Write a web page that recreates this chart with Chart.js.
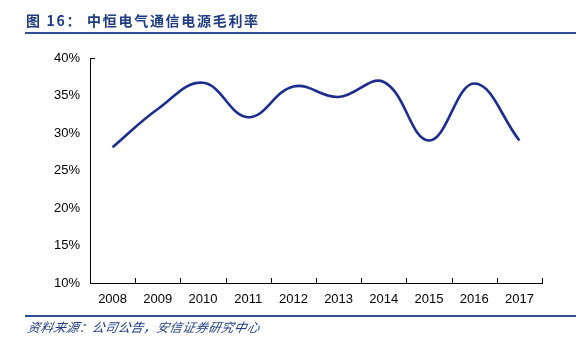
<!DOCTYPE html>
<html><head><meta charset="utf-8">
<script src="https://cdn.jsdelivr.net/npm/chart.js@4"></script>
<style>
html,body{margin:0;padding:0;background:#fff;}
#wrap{position:relative;width:588px;height:356px;overflow:hidden;}
#c{position:absolute;left:0;top:0;}
.title{position:absolute;left:26px;top:10px;font-family:"Noto Sans CJK SC";font-weight:bold;font-size:14px;color:#1F3B82;letter-spacing:1.7px;white-space:nowrap;}
.rule{position:absolute;left:25px;width:551px;height:2px;background:#2E4E9A;}
.src{position:absolute;left:26px;top:317px;font-family:"Noto Sans CJK SC";font-style:italic;font-size:12.5px;letter-spacing:0.4px;color:#1F3B82;white-space:nowrap;transform:skewX(-12deg);transform-origin:left bottom;}
</style></head>
<body><div id="wrap">
<canvas id="c" width="588" height="356"></canvas>
<div class="title">图 16： 中恒电气通信电源毛利率</div>
<div class="rule" style="top:32px"></div>
<div class="rule" style="top:315px;height:1.5px"></div>
<div class="src">资料来源：公司公告，安信证券研究中心</div>
</div>
<script>
const years = ["2008","2009","2010","2011","2012","2013","2014","2015","2016","2017"];
const grossMargin = [28.1, 33.2, 36.7, 32.1, 36.2, 34.8, 36.8, 29.0, 36.6, 29.0];
const yTicks = [10, 15, 20, 25, 30, 35, 40];

const innerTicks = {
  id: 'innerTicks',
  afterDraw(chart) {
    const ctx = chart.ctx, x = chart.scales.x, y = chart.scales.y;
    ctx.save();
    ctx.strokeStyle = '#000'; ctx.lineWidth = 1;
    ctx.beginPath();
    for (let i = 0; i <= years.length; i++) {
      const px = Math.round(x.getPixelForValue(i - 0.5)) + 0.5;
      ctx.moveTo(px, y.bottom); ctx.lineTo(px, y.bottom - 5);
    }
    const top = Math.round(y.getPixelForValue(40)) + 0.5;
    ctx.moveTo(x.left, top); ctx.lineTo(x.left + 5, top);
    ctx.stroke();
    ctx.restore();
  }
};

new Chart(document.getElementById('c'), {
  type: 'line',
  data: { labels: years, datasets: [{
    data: grossMargin, borderColor: '#1C2D8E', borderWidth: 2.6,
    pointRadius: 0, tension: 0.4, fill: false
  }]},
  options: {
    responsive: false, animation: false, devicePixelRatio: 1,
    layout: { padding: { left: 0, top: 58, right: 46, bottom: 0 } },
    plugins: { legend: { display: false }, tooltip: { enabled: false } },
    scales: {
      x: {
        offset: true,
        grid: { display: false, drawTicks: false },
        border: { color: '#000', width: 1 },
        ticks: { color: '#000', padding: 9, font: { family: 'Liberation Sans', size: 13 }, maxRotation: 0 },
        afterFit(s) { s.height = 73; }
      },
      y: {
        min: 10, max: 40,
        afterBuildTicks(s) { s.ticks = yTicks.map(v => ({ value: v })); },
        grid: { display: false, drawTicks: false },
        border: { color: '#000', width: 1 },
        ticks: { color: '#000', padding: 10, font: { family: 'Liberation Sans', size: 13 }, callback: v => v + '%' },
        afterFit(s) { s.width = 90; }
      }
    }
  },
  plugins: [innerTicks]
});
</script>
</body></html>
